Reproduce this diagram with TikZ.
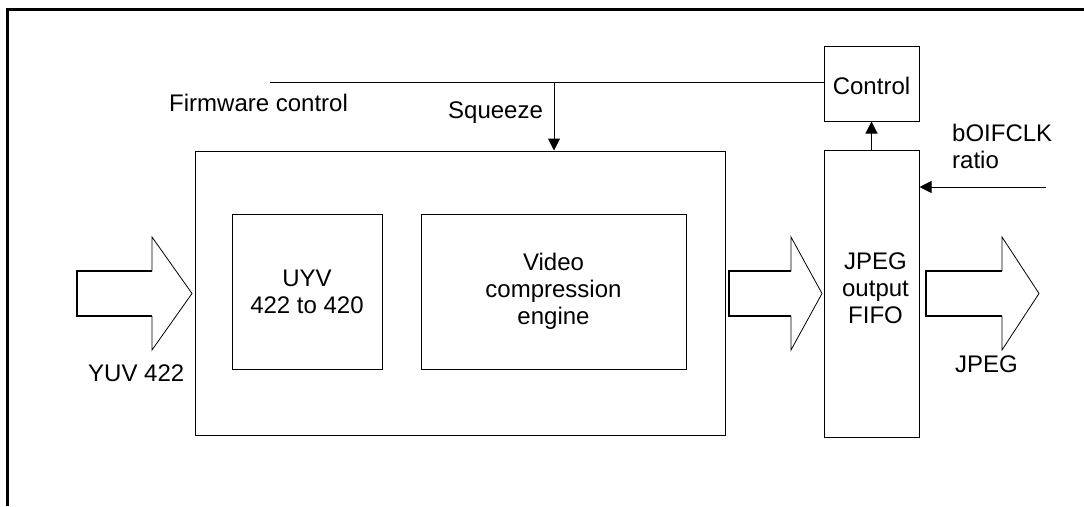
\documentclass[tikz,border=0pt]{standalone}
\usepackage{fontspec}
\setmainfont{Liberation Sans}
\usetikzlibrary{arrows.meta}
\newcommand{\fatarrow}[3]{
\draw [line width=1.8pt] (#2,271) -- (#1,271) -- (#1,316) -- (#2,316);
\draw [line width=0.8pt] (#2,271) -- (#2,237) -- (#3,293.5) -- (#2,350) -- (#2,316);
}
\begin{document}
\begin{tikzpicture}[x=1pt,y=-1pt,
  txt/.style={font=\fontsize{24}{27}\selectfont, inner sep=0pt, align=center},
  box/.style={draw, line width=1pt, txt},
  tip/.style={-{Triangle[length=12pt,width=12pt]}, line width=1pt}]
\useasboundingbox (0,0) rectangle (1084,506);
\draw [line width=3pt] (7,506) -- (7,9) -- (1084,9);
\node[box, minimum width=530pt, minimum height=284pt] (engine) at (460,293) {};
\node[box, minimum width=150pt, minimum height=155pt] (uyv) at (307,291.5) {UYV\\422 to 420};
\node[box, minimum width=265pt, minimum height=155pt] (vce) at (553.5,291.5) {Video\\compression\\engine};
\node[box, minimum width=95pt, minimum height=287pt] (fifo) at (871.5,293.5) {};
\node[txt] (fifolbl) at (875.5,288) {JPEG\\output\\FIFO};
\node[box, minimum width=95pt, minimum height=75pt, text height=23pt] (ctrl) at (871.5,83.5) {Control};
\fatarrow{77}{152}{192}
\fatarrow{729}{791}{822}
\fatarrow{926}{1002}{1039}
\coordinate (fw) at (270,82);
\coordinate (sq) at (554,82);
\coordinate (clk) at (1046,187);
\draw [line width=1pt] (fw) -- (fw -| ctrl.west);
\draw [tip] (sq) -- (sq |- engine.north);
\draw [tip] (fifo.north) -- (ctrl.south);
\draw [tip] (clk) -- (clk -| fifo.east);
\node[txt, anchor=base west] (fwlbl) at (169,111) {Firmware control};
\node[txt, anchor=base west] (sqlbl) at (448,118) {Squeeze};
\node[txt, anchor=base west, align=left] (clklbl) at (952,168) {bOIFCLK\\ratio};
\node[txt, anchor=base west] (inlbl) at (88,381) {YUV 422};
\node[txt, anchor=base west] (outlbl) at (955,372) {JPEG};
\end{tikzpicture}
\end{document}
